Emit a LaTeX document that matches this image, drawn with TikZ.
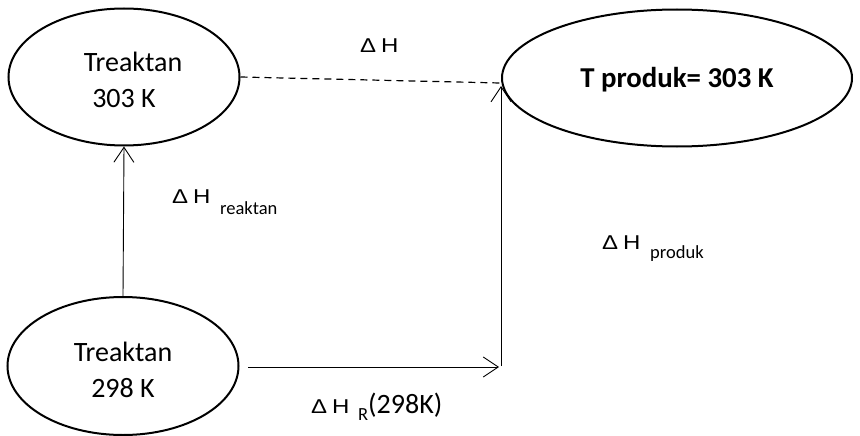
\documentclass[tikz,border=0pt]{standalone}
\usepackage{fontspec}
\setmainfont{Carlito}
\newfontfamily\arialfont{Liberation Sans}
\usetikzlibrary{shapes.geometric,arrows.meta}
% wide Delta-H symbol used in the enthalpy labels
\newcommand{\dH}{\scalebox{1.2}[1]{\arialfont Δ\hspace{4pt}H}}
\begin{document}
\begin{tikzpicture}[x=1pt,y=-1pt,
  state/.style={draw,line width=2pt,ellipse,inner sep=0pt,align=center,
    font=\fontsize{28}{36}\selectfont},
  flow/.style={line width=0.9pt,-{Straight Barb[length=15pt,width=20pt,line width=0.9pt]}},
  lbl/.style={inner sep=0pt,anchor=base west,font=\fontsize{20}{22}\selectfont},
  sub/.style={inner sep=0pt,anchor=base west,font=\fontsize{18.5}{20}\selectfont}]
\useasboundingbox (0,0) rectangle (860,436);
% states
\node[state,minimum width=231pt,minimum height=137pt] (r303) at (124,77)
  {\rule{0pt}{26pt}\hspace*{18pt}Treaktan\\303 K};
\node[state,minimum width=350pt,minimum height=137pt,
  font=\fontsize{28.8}{34}\selectfont\bfseries] (p303) at (677,78)
  {\rule{0pt}{23pt}T produk= 303 K};
\node[state,minimum width=231pt,minimum height=138pt] (r298) at (123,366)
  {\rule{0pt}{27pt}Treaktan\\298 K};
% corners of the path
\coordinate (c1) at (501,86);
\coordinate (c2) at (499,367);
\coordinate (c3) at (501,366);
\coordinate (s1) at (248,367);
\coordinate (d1) at (500,83);
% connectors
\draw[line width=1.2pt,dash pattern=on 7pt off 5pt] (r303.east) -- (d1);
\draw[flow] (r298.north) -- (r303.south);
\draw[flow] (s1) -- (c2);
\draw[flow] (c3) -- (c1);
% labels
\node[lbl] (l1) at (360,53) {\dH};
\node[lbl] (l2) at (172,203) {\dH};
\node[sub] (l2s) at (220,214) {reaktan};
\node[lbl] (l3) at (602,249) {\dH};
\node[sub] (l3s) at (650,258) {produk};
\node[lbl] (l4) at (311,413) {\dH};
\node[sub] (l4s) at (358,420) {R};
\node[font=\fontsize{28}{30}\selectfont,inner sep=0pt,anchor=base west] (l4t) at (368,413) {(298K)};
\end{tikzpicture}
\end{document}
